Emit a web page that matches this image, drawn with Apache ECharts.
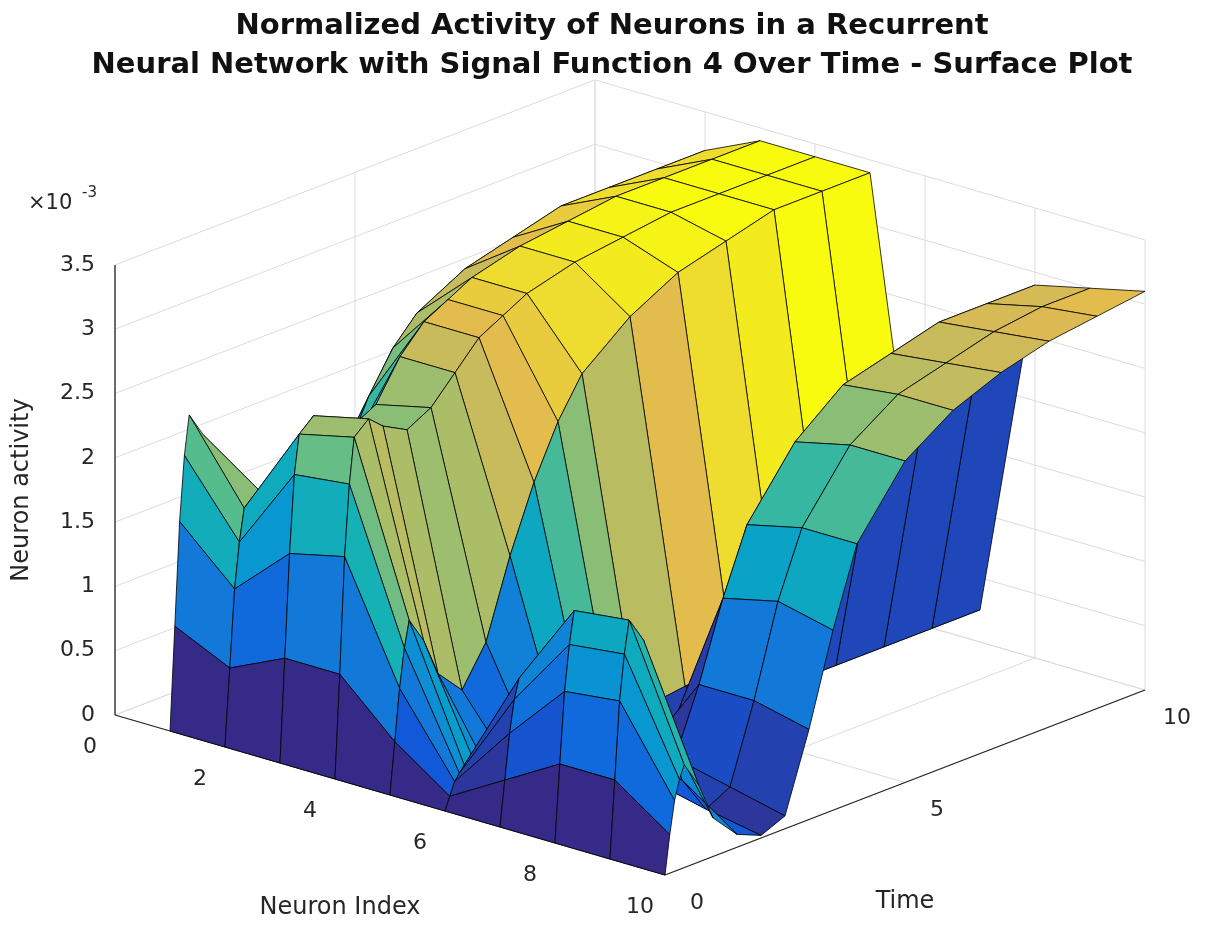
<!DOCTYPE html>
<html><head><meta charset="utf-8">
<script src="https://cdn.jsdelivr.net/npm/echarts@6/dist/echarts.min.js"></script>
<style>html,body{margin:0;padding:0;background:#fff}#c{width:1224px;height:940px}</style>
</head><body><div id="c"></div>
<script>
// ---- data (activity in units of 1e-3) ----
const neurons = [1,2,3,4,5,6,7,8,9,10];
const times = [0,0.1,0.2,0.3,0.4,0.7,1,1.5,2,2.5,3,3.5,4,5,6,7,8,9,10];
const act_n1  = [0,0.8,1.6,2.1,2.4,2.2,1.5,0.8,0.6,0.9,1.3,1.6,1.9,2.2,2.4,2.5,2.6,2.6,2.6];
const act_n2  = [0,0.6,1.2,1.55,1.8,1.9,1.7,1.4,1.5,1.9,2.3,2.6,2.8,3.0,3.1,3.2,3.2,3.2,3.2];
const act_n3  = [0,0.8,1.6,2.2,2.5,2.6,2.5,2.4,2.5,2.8,3.0,3.1,3.2,3.3,3.35,3.4,3.4,3.4,3.4];
const act_n4  = [0,0.8,1.7,2.25,2.6,2.7,2.6,2.5,2.6,2.8,3.0,3.1,3.2,3.3,3.35,3.4,3.4,3.4,3.4];
const act_n5  = [0,0.4,0.8,1.1,1.3,1.1,0.8,0.6,0.9,1.5,2.0,2.4,2.7,3.0,3.2,3.3,3.4,3.4,3.4];
const act_n6  = [0,0.1,0.2,0.25,0.3,0.2,0.1,0.05,0.05,0.1,0.15,0.2,0.2,0.25,0.3,0.3,0.3,0.3,0.3];
const act_n7  = [0,0.35,0.7,0.95,1.1,0.9,0.5,0.2,0.1,0.1,0.15,0.2,0.2,0.2,0.25,0.25,0.25,0.25,0.25];
const act_n8  = [0,0.6,1.15,1.5,1.75,1.5,0.9,0.4,0.2,0.3,0.8,1.4,1.9,2.4,2.7,2.8,2.9,2.9,2.9];
const act_n9  = [0,0.6,1.2,1.55,1.8,1.6,1.0,0.4,0.1,0.2,0.8,1.5,2.0,2.5,2.75,2.85,2.95,3.0,3.0];
const act_n10 = [0,0.3,0.55,0.7,0.8,0.6,0.3,0.1,0.02,0.1,0.7,1.4,2.0,2.5,2.75,2.9,3.0,3.05,3.1];
const activity = [act_n1,act_n2,act_n3,act_n4,act_n5,act_n6,act_n7,act_n8,act_n9,act_n10];
const zTicks = [0,0.5,1,1.5,2,2.5,3,3.5];
const zTickLabels = ['0','0.5','1','1.5','2','2.5','3','3.5'];
const nTicks = [0,2,4,6,8,10];
const nTickLabels = ['0','2','4','6','8','10'];
const tTicks = [0,5,10];
const tTickLabels = ['0','5','10'];

// ---- view ----
const N_MAX = 10, T_MAX = 10, Z_MAX = 3.5;
function proj(n,t,z){ return [115+55*n+48*t, 715+16*n-18.5*t-128.6*z]; }
const parula = [[0,[53,42,135]],[0.125,[15,92,221]],[0.25,[18,125,216]],[0.375,[7,156,207]],
 [0.5,[21,177,180]],[0.625,[89,189,140]],[0.75,[165,190,106]],[0.875,[225,185,82]],[1,[249,251,14]]];
function cmap(v){
  v=Math.max(0,Math.min(1,v));
  for(let k=1;k<parula.length;k++){ if(v<=parula[k][0]){const a=parula[k-1],b=parula[k];const f=(v-a[0])/(b[0]-a[0]);
    const c=a[1].map((x,i)=>Math.round(x+(b[1][i]-x)*f));return 'rgb('+c.join(',')+')';}}
  return 'rgb(249,251,14)';
}
const zMin=0, zMax=3.4;

const faces=[];
for(let i=0;i<neurons.length-1;i++)for(let j=0;j<times.length-1;j++){
  const nm=(neurons[i]+neurons[i+1])/2, tm=(times[j]+times[j+1])/2;
  faces.push([i,j,16*nm-18.5*tm]);
}
faces.sort((a,b)=>a[2]-b[2]);

const gridLines=[];
zTicks.forEach(z=>{ gridLines.push([0,0,z,0,T_MAX,z,0]); gridLines.push([0,T_MAX,z,N_MAX,T_MAX,z,0]); });
tTicks.forEach(t=>{ gridLines.push([0,t,0,0,t,Z_MAX,0]); gridLines.push([0,t,0,N_MAX,t,0,0]); });
nTicks.forEach(n=>{ gridLines.push([n,T_MAX,0,n,T_MAX,Z_MAX,0]); gridLines.push([n,0,0,n,T_MAX,0,0]); });
const axisLines=[[0,0,0,0,0,Z_MAX,1],[0,0,0,N_MAX,0,0,1],[N_MAX,0,0,N_MAX,T_MAX,0,1]];

const chart=echarts.init(document.getElementById('c'),null,{renderer:'canvas'});
function lineRender(params,api){
  const a=proj(api.value(0),api.value(1),api.value(2)), b=proj(api.value(3),api.value(4),api.value(5));
  const p1=api.coord(a), p2=api.coord(b);
  const k=api.value(6);
  return {type:'line',shape:{x1:p1[0],y1:p1[1],x2:p2[0],y2:p2[1]},
    style:{stroke:k?'#262626':'#dcdcdc',lineWidth:k?1.3:1}};
}
const labels=[];
zTicks.forEach((z,k)=>{const p=proj(0,0,z);labels.push({x:p[0]-20,y:p[1],text:zTickLabels[k],align:'right'});});
nTicks.forEach((n,k)=>{const p=proj(n,0,0);labels.push({x:p[0]-25,y:p[1]+32,text:nTickLabels[k],align:'center'});});
tTicks.forEach((t,k)=>{const p=proj(N_MAX,t,0);labels.push({x:p[0]+32,y:p[1]+28,text:tTickLabels[k],align:'center'});});

chart.setOption({
  animation:false,
  title:{text:'Normalized Activity of Neurons in a Recurrent\nNeural Network with Signal Function 4 Over Time - Surface Plot',
    left:'center',top:2,
    textStyle:{fontFamily:'DejaVu Sans',fontWeight:'bold',fontSize:29,lineHeight:39,color:'#111'}},
  grid:{left:0,right:0,top:0,bottom:0},
  xAxis:{type:'value',min:0,max:1224,show:false},
  yAxis:{type:'value',min:0,max:940,inverse:true,show:false},
  series:[
    {type:'custom',clip:false,data:gridLines,renderItem:lineRender,z:1},
    {type:'custom',clip:false,data:axisLines,renderItem:lineRender,z:2},
    {type:'custom',clip:false,data:faces,z:3,renderItem:function(params,api){
      const i=api.value(0), j=api.value(1);
      const c=[[i,j],[i+1,j],[i+1,j+1],[i,j+1]];
      const pts=c.map(([a,b])=>api.coord(proj(neurons[a],times[b],activity[a][b])));
      return {type:'polygon',shape:{points:pts},style:{fill:cmap((activity[i][j]-zMin)/(zMax-zMin)),stroke:'#000',lineWidth:0.8}};
    }},
    {type:'custom',clip:false,data:labels.map((l,k)=>[k]),z:4,renderItem:function(params,api){
      const l=labels[api.value(0)];const p=api.coord([l.x,l.y]);
      return {type:'text',x:p[0],y:p[1],style:{text:l.text,fontFamily:'DejaVu Sans',fontSize:22,fill:'#262626',align:l.align,verticalAlign:'middle'}};
    }}
  ],
  graphic:[
    {type:'text',left:28,top:193,style:{text:'×10',fontFamily:'DejaVu Sans',fontSize:21,fill:'#262626'}},
    {type:'text',left:82,top:186,style:{text:'-3',fontFamily:'DejaVu Sans',fontSize:15,fill:'#262626'}},
    {type:'text',x:22,y:490,rotation:Math.PI/2,style:{text:'Neuron activity',fontFamily:'DejaVu Sans',fontSize:24,fill:'#262626',align:'center',verticalAlign:'middle'}},
    {type:'text',x:340,y:908,style:{text:'Neuron Index',fontFamily:'DejaVu Sans',fontSize:24,fill:'#262626',align:'center',verticalAlign:'middle'}},
    {type:'text',x:905,y:902,style:{text:'Time',fontFamily:'DejaVu Sans',fontSize:24,fill:'#262626',align:'center',verticalAlign:'middle'}}
  ]
});
</script></body></html>
